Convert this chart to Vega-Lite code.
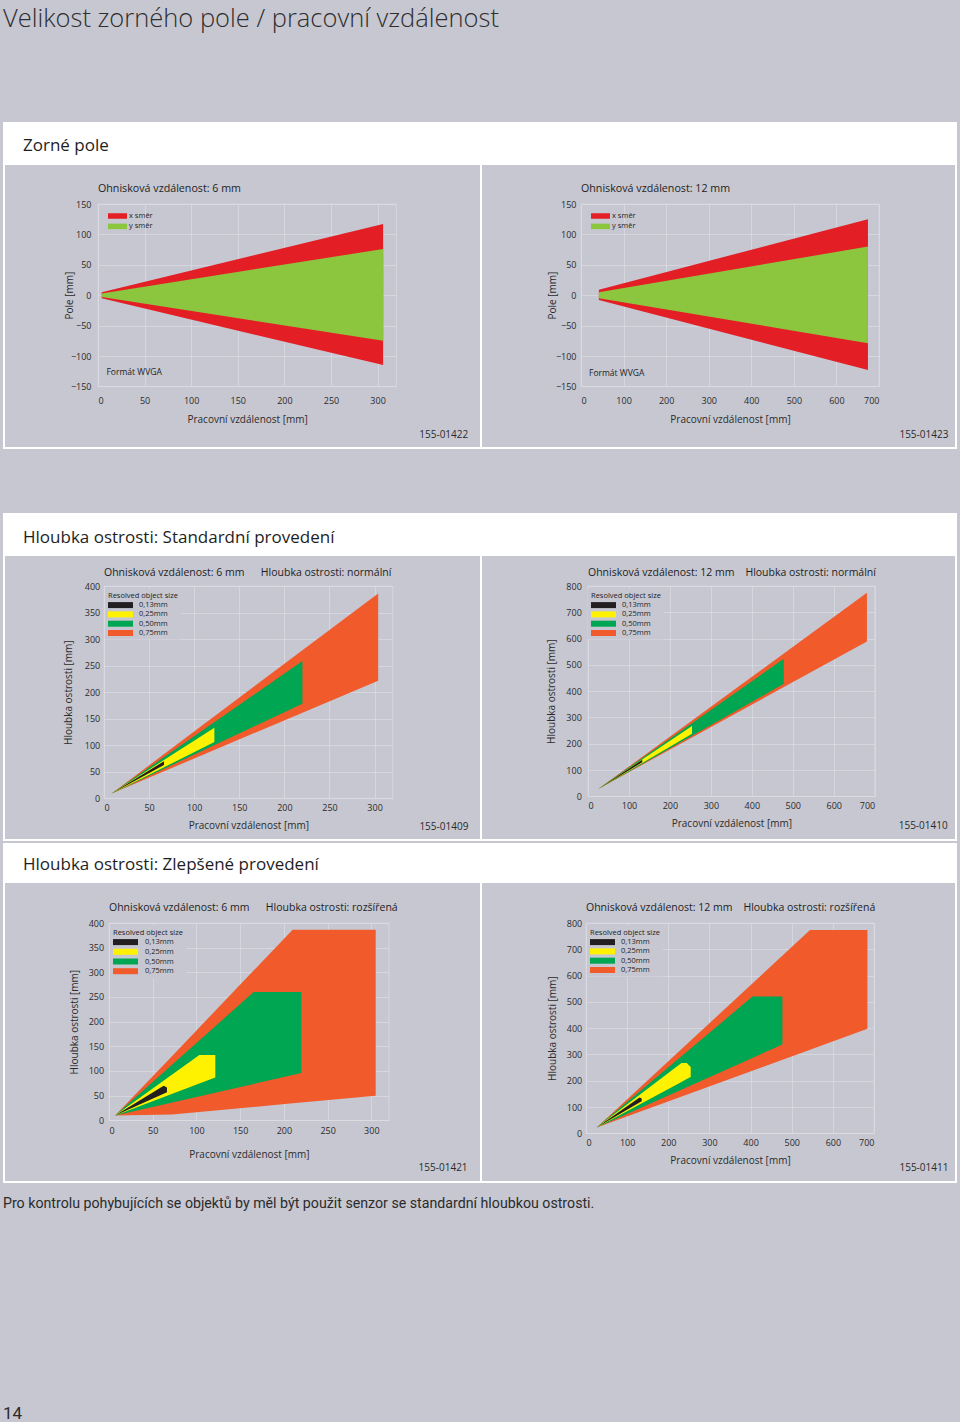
{
  "$schema": "https://vega.github.io/schema/vega-lite/v6.json",
  "background": "#c6c7d1",
  "padding": {"left": 3, "top": 7, "right": 3, "bottom": 0},
  "title": {"text": "Velikost zorného pole / pracovní vzdálenost", "anchor": "start", "fontSize": 25.5, "font": "Open Sans", "fontWeight": 300, "color": "#2e2e2e", "offset": 89.5},
  "config": {
    "font": "Open Sans",
    "view": {"stroke": null},
    "axis": {"labelFont": "Open Sans", "labelFontSize": 9, "labelColor": "#2b2b2b", "titleFont": "Open Sans", "titleFontSize": 10, "titleFontWeight": "normal", "titleColor": "#2b2b2b", "ticks": false, "domain": false, "grid": true, "gridColor": "#dcdce4", "gridWidth": 0.7},
    "legend": {"labelFont": "Open Sans", "titleFont": "Open Sans", "labelColor": "#1e1e1e", "titleColor": "#1e1e1e", "symbolStrokeWidth": 0, "symbolOpacity": 1, "orient": "none", "symbolSize": 100, "labelFontSize": 7.5, "titleFontSize": 7.5, "titleFontWeight": "normal"},
    "title": {"font": "Open Sans", "fontWeight": "normal", "color": "#1e1e1e"}
  },
  "spacing": 0,
  "bounds": "flush",
  "resolve": {"scale": {"x": "independent", "y": "independent", "color": "independent"}, "legend": {"color": "independent"}},
  "vconcat": [
    {"width": 954, "height": 43, "view": {"fill": "white", "stroke": null}, "data": {"values": []}, "mark": "rect",
     "title": {"text": "Zorné pole", "anchor": "start", "frame": "group", "orient": "top", "offset": -46, "dx": 20, "fontSize": 17, "baseline": "alphabetic"}},
    {"spacing": 0, "bounds": "flush", "hconcat": [
      {"width": 2, "height": 283, "view": {"fill": "white", "stroke": null}, "data": {"values": []}, "mark": "rect"},
      {"width": 475, "height": 1, "data": {"values": []}, "mark": "rect"},
      {"width": 2, "height": 283, "view": {"fill": "white", "stroke": null}, "data": {"values": []}, "mark": "rect"},
      {"width": 473, "height": 1, "data": {"values": []}, "mark": "rect"},
      {"width": 2, "height": 283, "view": {"fill": "white", "stroke": null}, "data": {"values": []}, "mark": "rect"}
    ]},
    {"width": 1, "height": 38.3, "data": {"values": []}, "mark": "rect"},
    {
      "spacing": 0, "bounds": "flush",
      "resolve": {"scale": {"x": "independent", "y": "independent", "color": "independent"}, "legend": {"color": "independent"}},
      "hconcat": [
        {"width": 94.5, "height": 1, "data": {"values": []}, "mark": "rect"},
        {
          "width": 298.2, "height": 182.4,
          "view": {"stroke": "#dcdce4", "strokeWidth": 0.7},
          "title": {"text": "Ohnisková vzdálenost: 6 mm", "anchor": "start", "frame": "group", "fontSize": 10.7, "offset": 5},
          "data": {"values": [
            {"band": "x směr", "x": 4, "lo": -5, "hi": 5},
            {"band": "x směr", "x": 306, "lo": -115, "hi": 117},
            {"band": "y směr", "x": 4, "lo": -3, "hi": 3},
            {"band": "y směr", "x": 306, "lo": -75, "hi": 76}
          ]},
          "encoding": {
            "x": {"field": "x", "type": "quantitative", "scale": {"domain": [0, 320], "nice": false, "zero": false}, "axis": {"values": [0, 50, 100, 150, 200, 250, 300], "title": "Pracovní vzdálenost [mm]", "labelPadding": 10.4, "titlePadding": 8.5}},
            "y": {"field": "hi", "type": "quantitative", "stack": null, "scale": {"domain": [-150, 150], "nice": false, "zero": false}, "axis": {"values": [-150, -100, -50, 0, 50, 100, 150], "title": "Pole [mm]", "labelPadding": 7, "titlePadding": -4}},
            "color": {"field": "band", "type": "nominal", "scale": {"domain": ["x směr", "y směr"], "range": ["#e31e25", "#8cc63e"]}, "legend": {"title": null, "legendX": 10, "legendY": 7, "padding": 0, "symbolType": "M-1,-0.55H2.8V0.55H-1Z", "labelOffset": 11, "rowPadding": 1.4}}
          },
          "layer": [
            {"transform": [{"filter": "datum.band === 'x směr'"}], "mark": {"type": "area", "orient": "vertical"}, "encoding": {"y2": {"field": "lo"}}},
            {"transform": [{"filter": "datum.band === 'y směr'"}], "mark": {"type": "area", "orient": "vertical"}, "encoding": {"y2": {"field": "lo"}}},
            {"data": {"values": [{"t": "Formát WVGA", "x": 9.1, "hi": -127}]}, "mark": {"type": "text", "align": "left", "baseline": "middle", "fontSize": 8.5},
             "encoding": {"text": {"field": "t"}, "color": {"value": "#1e1e1e"}}},
            {"data": {"values": [{"t": "155-01422", "x": 397.3, "hi": -229.4}]}, "mark": {"type": "text", "align": "right", "baseline": "middle", "fontSize": 10},
             "encoding": {"text": {"field": "t"}, "color": {"value": "#2b2b2b"}}}
          ]
        },
        {"width": 183.6, "height": 1, "data": {"values": []}, "mark": "rect"},
        {
          "width": 298, "height": 182.4,
          "view": {"stroke": "#dcdce4", "strokeWidth": 0.7},
          "title": {"text": "Ohnisková vzdálenost: 12 mm", "anchor": "start", "frame": "group", "fontSize": 10.7, "offset": 5},
          "data": {"values": [
            {"band": "x směr", "x": 42, "lo": -8, "hi": 9},
            {"band": "x směr", "x": 674, "lo": -123, "hi": 125},
            {"band": "y směr", "x": 42, "lo": -5, "hi": 5},
            {"band": "y směr", "x": 674, "lo": -79, "hi": 80}
          ]},
          "encoding": {
            "x": {"field": "x", "type": "quantitative", "scale": {"domain": [0, 700], "nice": false, "zero": false}, "axis": {"values": [0, 100, 200, 300, 400, 500, 600, 700], "title": "Pracovní vzdálenost [mm]", "labelPadding": 10.4, "titlePadding": 8.5}},
            "y": {"field": "hi", "type": "quantitative", "stack": null, "scale": {"domain": [-150, 150], "nice": false, "zero": false}, "axis": {"values": [-150, -100, -50, 0, 50, 100, 150], "title": "Pole [mm]", "labelPadding": 5, "titlePadding": -1.7}},
            "color": {"field": "band", "type": "nominal", "scale": {"domain": ["x směr", "y směr"], "range": ["#e31e25", "#8cc63e"]}, "legend": {"title": null, "legendX": 10, "legendY": 7, "padding": 0, "symbolType": "M-1,-0.55H2.8V0.55H-1Z", "labelOffset": 11, "rowPadding": 1.4}}
          },
          "layer": [
            {"transform": [{"filter": "datum.band === 'x směr'"}], "mark": {"type": "area", "orient": "vertical"}, "encoding": {"y2": {"field": "lo"}}},
            {"transform": [{"filter": "datum.band === 'y směr'"}], "mark": {"type": "area", "orient": "vertical"}, "encoding": {"y2": {"field": "lo"}}},
            {"data": {"values": [{"t": "Formát WVGA", "x": 18.8, "hi": -128}]}, "mark": {"type": "text", "align": "left", "baseline": "middle", "fontSize": 8.5},
             "encoding": {"text": {"field": "t"}, "color": {"value": "#1e1e1e"}}},
            {"data": {"values": [{"t": "155-01423", "x": 863, "hi": -230.6}]}, "mark": {"type": "text", "align": "right", "baseline": "middle", "fontSize": 10},
             "encoding": {"text": {"field": "t"}, "color": {"value": "#2b2b2b"}}}
          ]
        }
      ]
    },
    {"width": 1, "height": 242.7, "data": {"values": []}, "mark": "rect"},
    {"width": 954, "height": 2, "view": {"fill": "white", "stroke": null}, "data": {"values": []}, "mark": "rect"},
    {"width": 1, "height": 64, "data": {"values": []}, "mark": "rect"},
    {"width": 954, "height": 43, "view": {"fill": "white", "stroke": null}, "data": {"values": []}, "mark": "rect",
     "title": {"text": "Hloubka ostrosti: Standardní provedení", "anchor": "start", "frame": "group", "orient": "top", "offset": -47, "dx": 20, "fontSize": 17, "baseline": "alphabetic"}},
    {"spacing": 0, "bounds": "flush", "hconcat": [
      {"width": 2, "height": 283.5, "view": {"fill": "white", "stroke": null}, "data": {"values": []}, "mark": "rect"},
      {"width": 475, "height": 1, "data": {"values": []}, "mark": "rect"},
      {"width": 2, "height": 283.5, "view": {"fill": "white", "stroke": null}, "data": {"values": []}, "mark": "rect"},
      {"width": 473, "height": 1, "data": {"values": []}, "mark": "rect"},
      {"width": 2, "height": 283.5, "view": {"fill": "white", "stroke": null}, "data": {"values": []}, "mark": "rect"}
    ]},
    {"width": 1, "height": 29.3, "data": {"values": []}, "mark": "rect"},
    {
      "spacing": 0, "bounds": "flush",
      "resolve": {"scale": {"x": "independent", "y": "independent", "color": "independent"}, "legend": {"color": "independent"}},
      "hconcat": [
        {"width": 100.3, "height": 1, "data": {"values": []}, "mark": "rect"},
        {
          "width": 288.6, "height": 212.4,
          "view": {"stroke": "#dcdce4", "strokeWidth": 0.7},
          "title": {"text": "Ohnisková vzdálenost: 6 mm\u00a0\u00a0\u00a0\u00a0\u00a0\u00a0Hloubka ostrosti: normální", "anchor": "start", "frame": "group", "fontSize": 10.5, "offset": 3.5},
          "data": {"values": [
            {"band": "0,75mm", "x": 8.5, "lo": 9.4, "hi": 9.4},
            {"band": "0,75mm", "x": 304, "lo": 221.7, "hi": 386},
            {"band": "0,50mm", "x": 8.5, "lo": 9.4, "hi": 9.4},
            {"band": "0,50mm", "x": 220, "lo": 178.3, "hi": 258.7},
            {"band": "0,25mm", "x": 8.5, "lo": 9.4, "hi": 9.4},
            {"band": "0,25mm", "x": 122.4, "lo": 106, "hi": 133},
            {"band": "0,13mm", "x": 8.5, "lo": 9.4, "hi": 9.4},
            {"band": "0,13mm", "x": 66.5, "lo": 63, "hi": 70}
          ]},
          "encoding": {
            "x": {"field": "x", "type": "quantitative", "scale": {"domain": [0, 320], "nice": false, "zero": false}, "axis": {"values": [0, 50, 100, 150, 200, 250, 300], "title": "Pracovní vzdálenost [mm]", "labelPadding": 5, "titlePadding": 8.4}},
            "y": {"field": "hi", "type": "quantitative", "stack": null, "scale": {"domain": [0, 400], "nice": false, "zero": false}, "axis": {"values": [0, 50, 100, 150, 200, 250, 300, 350, 400], "title": "Hloubka ostrosti [mm]", "labelPadding": 4.3, "titlePadding": 11}},
            "color": {"field": "band", "type": "nominal", "scale": {"domain": ["0,13mm", "0,25mm", "0,50mm", "0,75mm"], "range": ["#231f20", "#fff200", "#00a651", "#f15a2b"]}, "legend": {"title": "Resolved object size", "legendX": 1, "legendY": 2.6, "padding": 3, "fillColor": "#c6c7d1", "titlePadding": 1, "symbolType": "M-1,-0.6H4V0.6H-1Z", "labelOffset": 21, "rowPadding": 0.3}}
          },
          "layer": [
            {"transform": [{"filter": "datum.band === '0,75mm'"}], "mark": {"type": "area", "orient": "vertical"}, "encoding": {"y2": {"field": "lo"}}},
            {"transform": [{"filter": "datum.band === '0,50mm'"}], "mark": {"type": "area", "orient": "vertical"}, "encoding": {"y2": {"field": "lo"}}},
            {"transform": [{"filter": "datum.band === '0,25mm'"}], "mark": {"type": "area", "orient": "vertical"}, "encoding": {"y2": {"field": "lo"}}},
            {"transform": [{"filter": "datum.band === '0,13mm'"}], "mark": {"type": "area", "orient": "vertical"}, "encoding": {"y2": {"field": "lo"}}},
            {"data": {"values": [{"t": "155-01409", "x": 404, "hi": -53.9}]}, "mark": {"type": "text", "align": "right", "baseline": "middle", "fontSize": 10},
             "encoding": {"text": {"field": "t"}, "color": {"value": "#2b2b2b"}}}
          ]
        },
        {"width": 194.1, "height": 1, "data": {"values": []}, "mark": "rect"},
        {
          "width": 286.7, "height": 210.3,
          "view": {"stroke": "#dcdce4", "strokeWidth": 0.7},
          "title": {"text": "Ohnisková vzdálenost: 12 mm\u00a0\u00a0\u00a0\u00a0Hloubka ostrosti: normální", "anchor": "start", "frame": "group", "fontSize": 10.5, "offset": 3.6},
          "data": {"values": [
            {"band": "0,75mm", "x": 25, "lo": 28, "hi": 28},
            {"band": "0,75mm", "x": 681, "lo": 589, "hi": 774},
            {"band": "0,50mm", "x": 25, "lo": 28, "hi": 28},
            {"band": "0,50mm", "x": 478, "lo": 428, "hi": 523},
            {"band": "0,25mm", "x": 25, "lo": 28, "hi": 28},
            {"band": "0,25mm", "x": 254, "lo": 238, "hi": 267},
            {"band": "0,13mm", "x": 25, "lo": 28, "hi": 28},
            {"band": "0,13mm", "x": 132.5, "lo": 130, "hi": 139}
          ]},
          "encoding": {
            "x": {"field": "x", "type": "quantitative", "scale": {"domain": [0, 700], "nice": false, "zero": false}, "axis": {"values": [0, 100, 200, 300, 400, 500, 600, 700], "title": "Pracovní vzdálenost [mm]", "labelPadding": 5.5, "titlePadding": 7.8}},
            "y": {"field": "hi", "type": "quantitative", "stack": null, "scale": {"domain": [0, 800], "nice": false, "zero": false}, "axis": {"values": [0, 100, 200, 300, 400, 500, 600, 700, 800], "title": "Hloubka ostrosti [mm]", "labelPadding": 6.7, "titlePadding": 9.6}},
            "color": {"field": "band", "type": "nominal", "scale": {"domain": ["0,13mm", "0,25mm", "0,50mm", "0,75mm"], "range": ["#231f20", "#fff200", "#00a651", "#f15a2b"]}, "legend": {"title": "Resolved object size", "legendX": 0, "legendY": 2.6, "padding": 3, "fillColor": "#c6c7d1", "titlePadding": 1, "symbolType": "M-1,-0.6H4V0.6H-1Z", "labelOffset": 21, "rowPadding": 0.3}}
          },
          "layer": [
            {"transform": [{"filter": "datum.band === '0,75mm'"}], "mark": {"type": "area", "orient": "vertical"}, "encoding": {"y2": {"field": "lo"}}},
            {"transform": [{"filter": "datum.band === '0,50mm'"}], "mark": {"type": "area", "orient": "vertical"}, "encoding": {"y2": {"field": "lo"}}},
            {"transform": [{"filter": "datum.band === '0,25mm'"}], "mark": {"type": "area", "orient": "vertical"}, "encoding": {"y2": {"field": "lo"}}},
            {"transform": [{"filter": "datum.band === '0,13mm'"}], "mark": {"type": "area", "orient": "vertical"}, "encoding": {"y2": {"field": "lo"}}},
            {"data": {"values": [{"t": "155-01410", "x": 878.2, "hi": -114.5}]}, "mark": {"type": "text", "align": "right", "baseline": "middle", "fontSize": 10},
             "encoding": {"text": {"field": "t"}, "color": {"value": "#2b2b2b"}}}
          ]
        }
      ]
    },
    {"width": 1, "height": 252.2, "data": {"values": []}, "mark": "rect"},
    {"width": 954, "height": 2, "view": {"fill": "white", "stroke": null}, "data": {"values": []}, "mark": "rect"},
    {"width": 1, "height": 1.5, "data": {"values": []}, "mark": "rect"},
    {"width": 954, "height": 40, "view": {"fill": "white", "stroke": null}, "data": {"values": []}, "mark": "rect",
     "title": {"text": "Hloubka ostrosti: Zlepšené provedení", "anchor": "start", "frame": "group", "orient": "top", "offset": -44, "dx": 20, "fontSize": 17, "baseline": "alphabetic"}},
    {"spacing": 0, "bounds": "flush", "hconcat": [
      {"width": 2, "height": 299, "view": {"fill": "white", "stroke": null}, "data": {"values": []}, "mark": "rect"},
      {"width": 475, "height": 1, "data": {"values": []}, "mark": "rect"},
      {"width": 2, "height": 299, "view": {"fill": "white", "stroke": null}, "data": {"values": []}, "mark": "rect"},
      {"width": 473, "height": 1, "data": {"values": []}, "mark": "rect"},
      {"width": 2, "height": 299, "view": {"fill": "white", "stroke": null}, "data": {"values": []}, "mark": "rect"}
    ]},
    {"width": 1, "height": 39.7, "data": {"values": []}, "mark": "rect"},
    {
      "spacing": 0, "bounds": "flush",
      "resolve": {"scale": {"x": "independent", "y": "independent", "color": "independent"}, "legend": {"color": "independent"}},
      "hconcat": [
        {"width": 105.7, "height": 1, "data": {"values": []}, "mark": "rect"},
        {
          "width": 279.8, "height": 197.3,
          "view": {"stroke": "#dcdce4", "strokeWidth": 0.7},
          "title": {"text": "Ohnisková vzdálenost: 6 mm\u00a0\u00a0\u00a0\u00a0\u00a0\u00a0Hloubka ostrosti: rozšířená", "anchor": "start", "frame": "group", "fontSize": 10.5, "offset": 5.3},
          "data": {"values": [
            {"band": "0,75mm", "x": 7, "lo": 9.6, "hi": 9.6},
            {"band": "0,75mm", "x": 72, "lo": 11.6, "hi": 130},
            {"band": "0,75mm", "x": 210, "lo": 34.5, "hi": 386.5},
            {"band": "0,75mm", "x": 305, "lo": 50, "hi": 386.5},
            {"band": "0,50mm", "x": 7, "lo": 9.6, "hi": 9.6},
            {"band": "0,50mm", "x": 165.4, "lo": 73.7, "hi": 260},
            {"band": "0,50mm", "x": 220, "lo": 95.8, "hi": 260},
            {"band": "0,25mm", "x": 7, "lo": 9.6, "hi": 9.6},
            {"band": "0,25mm", "x": 103.3, "lo": 74.6, "hi": 132.4},
            {"band": "0,25mm", "x": 121.6, "lo": 87, "hi": 132.4},
            {"band": "0,13mm", "x": 7, "lo": 9.6, "hi": 9.6},
            {"band": "0,13mm", "x": 62.5, "lo": 54, "hi": 70},
            {"band": "0,13mm", "x": 66.3, "lo": 57, "hi": 66.6}
          ]},
          "encoding": {
            "x": {"field": "x", "type": "quantitative", "scale": {"domain": [0, 320], "nice": false, "zero": false}, "axis": {"values": [0, 50, 100, 150, 200, 250, 300], "title": "Pracovní vzdálenost [mm]", "labelPadding": 5.7, "titlePadding": 14.5}},
            "y": {"field": "hi", "type": "quantitative", "stack": null, "scale": {"domain": [0, 400], "nice": false, "zero": false}, "axis": {"values": [0, 50, 100, 150, 200, 250, 300, 350, 400], "title": "Hloubka ostrosti [mm]", "labelPadding": 5.4, "titlePadding": 9}},
            "color": {"field": "band", "type": "nominal", "scale": {"domain": ["0,13mm", "0,25mm", "0,50mm", "0,75mm"], "range": ["#231f20", "#fff200", "#00a651", "#f15a2b"]}, "legend": {"title": "Resolved object size", "legendX": 1, "legendY": 2.6, "padding": 3, "fillColor": "#c6c7d1", "titlePadding": 1, "symbolType": "M-1,-0.6H4V0.6H-1Z", "labelOffset": 22, "rowPadding": 0.7}}
          },
          "layer": [
            {"transform": [{"filter": "datum.band === '0,75mm'"}], "mark": {"type": "area", "orient": "vertical"}, "encoding": {"y2": {"field": "lo"}}},
            {"transform": [{"filter": "datum.band === '0,50mm'"}], "mark": {"type": "area", "orient": "vertical"}, "encoding": {"y2": {"field": "lo"}}},
            {"transform": [{"filter": "datum.band === '0,25mm'"}], "mark": {"type": "area", "orient": "vertical"}, "encoding": {"y2": {"field": "lo"}}},
            {"transform": [{"filter": "datum.band === '0,13mm'"}], "mark": {"type": "area", "orient": "vertical"}, "encoding": {"y2": {"field": "lo"}}},
            {"data": {"values": [{"t": "155-01421", "x": 410.1, "hi": -95.9}]}, "mark": {"type": "text", "align": "right", "baseline": "middle", "fontSize": 10},
             "encoding": {"text": {"field": "t"}, "color": {"value": "#2b2b2b"}}}
          ]
        },
        {"width": 196.8, "height": 1, "data": {"values": []}, "mark": "rect"},
        {
          "width": 288, "height": 210.3,
          "view": {"stroke": "#dcdce4", "strokeWidth": 0.7},
          "title": {"text": "Ohnisková vzdálenost: 12 mm\u00a0\u00a0\u00a0\u00a0Hloubka ostrosti: rozšířená", "anchor": "start", "frame": "group", "fontSize": 10.5, "offset": 5.7},
          "data": {"values": [
            {"band": "0,75mm", "x": 26, "lo": 21.6, "hi": 21.6},
            {"band": "0,75mm", "x": 544.5, "lo": 317.7, "hi": 773},
            {"band": "0,75mm", "x": 684, "lo": 397.4, "hi": 773},
            {"band": "0,50mm", "x": 26, "lo": 21.6, "hi": 21.6},
            {"band": "0,50mm", "x": 404.5, "lo": 286.9, "hi": 520},
            {"band": "0,50mm", "x": 477.4, "lo": 338, "hi": 520},
            {"band": "0,25mm", "x": 26, "lo": 21.6, "hi": 21.6},
            {"band": "0,25mm", "x": 232, "lo": 195.6, "hi": 267.6},
            {"band": "0,25mm", "x": 244.8, "lo": 206.4, "hi": 267.6},
            {"band": "0,25mm", "x": 254.5, "lo": 214.6, "hi": 252.5},
            {"band": "0,13mm", "x": 26, "lo": 21.6, "hi": 21.6},
            {"band": "0,13mm", "x": 130, "lo": 117, "hi": 136},
            {"band": "0,13mm", "x": 135.4, "lo": 122, "hi": 132.5}
          ]},
          "encoding": {
            "x": {"field": "x", "type": "quantitative", "scale": {"domain": [0, 700], "nice": false, "zero": false}, "axis": {"values": [0, 100, 200, 300, 400, 500, 600, 700], "title": "Pracovní vzdálenost [mm]", "labelPadding": 5.5, "titlePadding": 7.5}},
            "y": {"field": "hi", "type": "quantitative", "stack": null, "scale": {"domain": [0, 800], "nice": false, "zero": false}, "axis": {"values": [0, 100, 200, 300, 400, 500, 600, 700, 800], "title": "Hloubka ostrosti [mm]", "labelPadding": 4.3, "titlePadding": 9}},
            "color": {"field": "band", "type": "nominal", "scale": {"domain": ["0,13mm", "0,25mm", "0,50mm", "0,75mm"], "range": ["#231f20", "#fff200", "#00a651", "#f15a2b"]}, "legend": {"title": "Resolved object size", "legendX": 1, "legendY": 2.6, "padding": 3, "fillColor": "#c6c7d1", "titlePadding": 1, "symbolType": "M-1,-0.6H4V0.6H-1Z", "labelOffset": 21, "rowPadding": 0.3}}
          },
          "layer": [
            {"transform": [{"filter": "datum.band === '0,75mm'"}], "mark": {"type": "area", "orient": "vertical"}, "encoding": {"y2": {"field": "lo"}}},
            {"transform": [{"filter": "datum.band === '0,50mm'"}], "mark": {"type": "area", "orient": "vertical"}, "encoding": {"y2": {"field": "lo"}}},
            {"transform": [{"filter": "datum.band === '0,25mm'"}], "mark": {"type": "area", "orient": "vertical"}, "encoding": {"y2": {"field": "lo"}}},
            {"transform": [{"filter": "datum.band === '0,13mm'"}], "mark": {"type": "area", "orient": "vertical"}, "encoding": {"y2": {"field": "lo"}}},
            {"data": {"values": [{"t": "155-01411", "x": 880.9, "hi": -130.5}]}, "mark": {"type": "text", "align": "right", "baseline": "middle", "fontSize": 10},
             "encoding": {"text": {"field": "t"}, "color": {"value": "#2b2b2b"}}}
          ]
        }
      ]
    },
    {"width": 1, "height": 257.3, "data": {"values": []}, "mark": "rect"},
    {"width": 954, "height": 2, "view": {"fill": "white", "stroke": null}, "data": {"values": []}, "mark": "rect"},
    {"width": 954, "height": 38.7, "data": {"values": []}, "mark": "rect",
     "title": {"text": "Pro kontrolu pohybujících se objektů by měl být použit senzor se standardní hloubkou ostrosti.", "orient": "bottom", "anchor": "start", "frame": "group", "offset": -14, "baseline": "alphabetic", "font": "Roboto", "fontSize": 14.2, "color": "#2b2b2b"}},
    {"width": 954, "height": 203.3, "data": {"values": []}, "mark": "rect",
     "title": {"text": "14", "orient": "bottom", "anchor": "start", "frame": "group", "offset": -6, "baseline": "alphabetic", "font": "Roboto", "fontSize": 17, "color": "#2b2b2b"}}
  ]
}
